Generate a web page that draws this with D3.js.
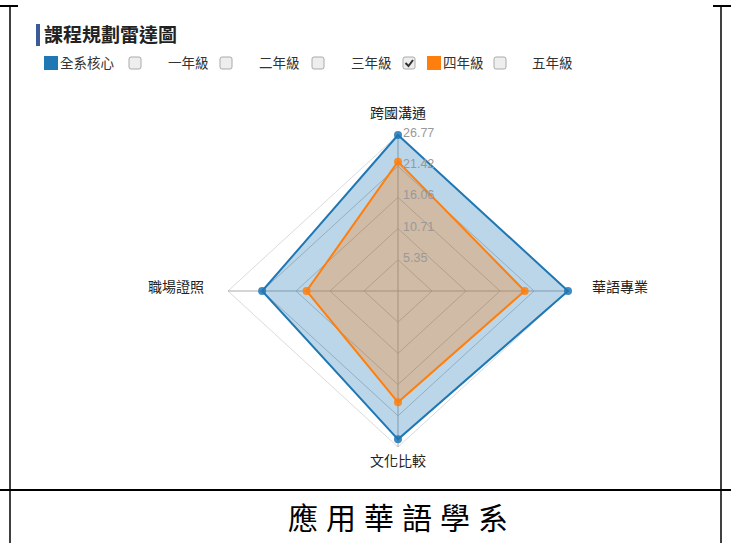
<!DOCTYPE html>
<html>
<head>
<meta charset="utf-8">
<script src="https://cdn.jsdelivr.net/npm/d3@7"></script>
<style>
  body { margin: 0; background: #fff; }
  svg { display: block; font-family: "Noto Sans CJK TC", "Noto Sans", sans-serif; }
</style>
</head>
<body>
<div id="chart"></div>
<script>
// Radar chart data
const axes = ["跨國溝通", "華語專業", "文化比較", "職場證照"];
const coreValues = [26.77, 26.77, 25.45, 21.4];   // 全系核心
const year4Values = [22.2, 19.95, 19.1, 14.4];    // 四年級
const levelTicks = [5.354, 10.708, 16.062, 21.416, 26.77];
const legendItems = ["全系核心", "一年級", "二年級", "三年級", "四年級", "五年級"];
const maxValue = 26.77;

const W = 731, H = 543;
const cx = 398, cy = 291;
const svg = d3.select("#chart").append("svg")
    .attr("width", W)
    .attr("height", H);

// page frame (document table lines)
const frame = svg.append("g").attr("stroke", "#000");
frame.append("line").attr("x1", 0).attr("x2", 18).attr("y1", 6).attr("y2", 6).attr("stroke-width", 2);
frame.append("line").attr("x1", 713).attr("x2", 731).attr("y1", 6).attr("y2", 6).attr("stroke-width", 2);
frame.append("line").attr("x1", 10).attr("x2", 10).attr("y1", 6).attr("y2", H).attr("stroke-width", 1.5);
frame.append("line").attr("x1", 721).attr("x2", 721).attr("y1", 6).attr("y2", H).attr("stroke-width", 1.5);
frame.append("line").attr("x1", 0).attr("x2", W).attr("y1", 490).attr("y2", 490).attr("stroke-width", 2);

svg.append("text")
    .attr("x", cx + 4).attr("y", 529)
    .attr("text-anchor", "middle")
    .attr("font-size", 30)
    .attr("letter-spacing", 8)
    .attr("fill", "#000")
    .text("應用華語學系");

// Title
svg.append("rect").attr("x", 36).attr("y", 24).attr("width", 4).attr("height", 22).attr("fill", "#3d5a98");
svg.append("text")
    .attr("x", 44).attr("y", 42)
    .attr("font-size", 19)
    .attr("font-weight", "bold")
    .attr("fill", "#222")
    .text("課程規劃雷達圖");

// Legend row
const legendX = [60, 168, 259, 351, 443, 532];
const boxX = [129, 220, 312, 403, 494];
const legend = svg.append("g").attr("font-size", 13.5).attr("fill", "#333");
legend.selectAll("text.lg")
    .data(legendItems)
    .enter().append("text")
    .attr("class", "lg")
    .attr("x", (d, i) => legendX[i])
    .attr("y", 68)
    .text(d => d);
legend.append("rect").attr("x", 44).attr("y", 56).attr("width", 14).attr("height", 14).attr("fill", "#1f77b4");
legend.append("rect").attr("x", 427).attr("y", 56).attr("width", 14).attr("height", 14).attr("fill", "#ff7f0e");
legend.selectAll("rect.cb")
    .data(boxX)
    .enter().append("rect")
    .attr("class", "cb")
    .attr("x", d => d).attr("y", 57)
    .attr("width", 12).attr("height", 12)
    .attr("rx", 2)
    .attr("fill", "#eee")
    .attr("stroke", "#aaa");
legend.append("path")
    .attr("d", `M${boxX[3] + 2.5},63 l3,3 l4.5,-6`)
    .attr("fill", "none")
    .attr("stroke", "#333")
    .attr("stroke-width", 2);

// Scales (screenshot is slightly stretched horizontally)
const rx = d3.scaleLinear().domain([0, maxValue]).range([0, 170]);
const ry = d3.scaleLinear().domain([0, maxValue]).range([0, 156]);
const angle = d3.scalePoint().domain(d3.range(axes.length + 1)).range([0, 2 * Math.PI]);
const px = (v, i) => cx + rx(v) * Math.sin(angle(i));
const py = (v, i) => cy - ry(v) * Math.cos(angle(i));

const g = svg.append("g");

// grid levels
levelTicks.forEach((t, j) => {
    g.append("polygon")
        .attr("points", axes.map((a, i) => [px(t, i), py(t, i)].join(",")).join(" "))
        .attr("fill", "none")
        .attr("stroke", j === levelTicks.length - 1 ? "#d0d0d0" : "#b8b8b8")
        .attr("stroke-width", 0.8);
});

// axis lines
axes.forEach((a, i) => {
    g.append("line")
        .attr("x1", cx).attr("y1", cy)
        .attr("x2", px(maxValue, i)).attr("y2", py(maxValue, i))
        .attr("stroke", "#aaa")
        .attr("stroke-width", 1);
});

// series
const series = [
    { values: coreValues, color: "#1f77b4" },
    { values: year4Values, color: "#ff7f0e" }
];
series.forEach(s => {
    g.append("polygon")
        .attr("points", s.values.map((v, i) => [px(v, i), py(v, i)].join(",")).join(" "))
        .attr("fill", s.color)
        .attr("fill-opacity", 0.3)
        .attr("stroke", s.color)
        .attr("stroke-width", 2);
});
series.forEach(s => {
    g.selectAll(null)
        .data(s.values)
        .enter().append("circle")
        .attr("cx", (v, i) => px(v, i))
        .attr("cy", (v, i) => py(v, i))
        .attr("r", 4)
        .attr("fill", s.color)
        .attr("fill-opacity", 0.85);
});

// level labels
g.selectAll("text.level")
    .data(levelTicks)
    .enter().append("text")
    .attr("class", "level")
    .attr("x", cx + 5)
    .attr("y", d => cy - ry(d) + 2)
    .attr("font-size", 12.5)
    .attr("font-family", "Liberation Sans, Arial, sans-serif")
    .attr("fill", "#999")
    .text(d => d3.format(".2f")(d));

// axis labels
g.selectAll("text.axis")
    .data(axes)
    .enter().append("text")
    .attr("class", "axis")
    .attr("x", (d, i) => cx + (170 + 52) * Math.sin(angle(i)))
    .attr("y", (d, i) => cy - 5 - (156 + 18) * Math.cos(angle(i)))
    .attr("text-anchor", "middle")
    .attr("dominant-baseline", "central")
    .attr("font-size", 14)
    .attr("fill", "#222")
    .text(d => d);
</script>
</body>
</html>
